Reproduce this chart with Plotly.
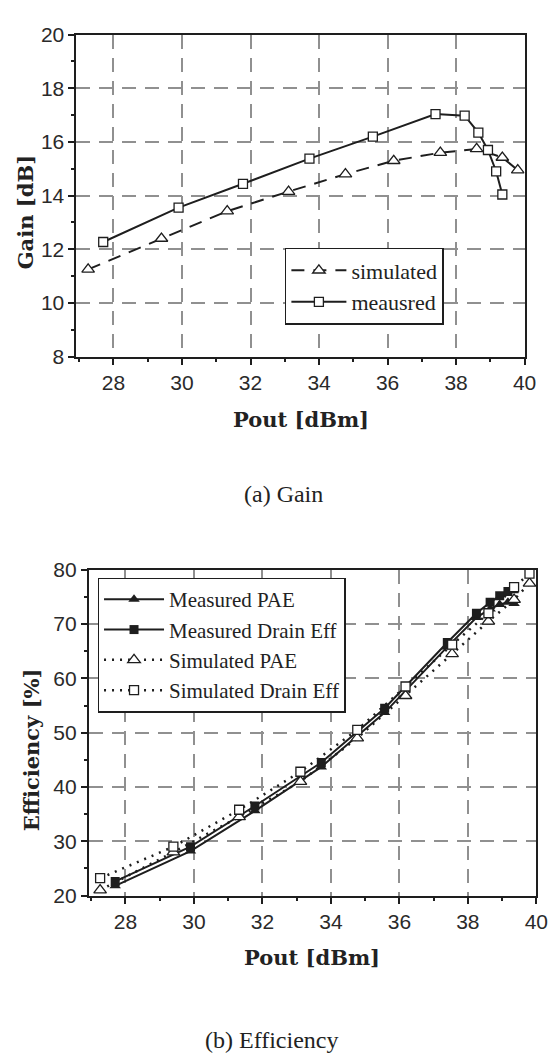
import plotly.graph_objects as go

# ---------------- data: (a) Gain ----------------
gain_sim_x = [27.26, 29.4, 31.32, 33.11, 34.77, 36.18, 37.54, 38.6, 39.35, 39.8]
gain_sim_y = [11.25, 12.4, 13.42, 14.15, 14.8, 15.3, 15.6, 15.74, 15.42, 14.95]
gain_meas_x = [27.7, 29.9, 31.78, 33.72, 35.57, 37.4, 38.25, 38.65, 38.93, 39.17, 39.35]
gain_meas_y = [12.27, 13.55, 14.44, 15.38, 16.2, 17.04, 16.98, 16.35, 15.7, 14.9, 14.04]

# ---------------- data: (b) Efficiency ----------------
eff_meas_x = [27.7, 29.9, 31.78, 33.72, 35.57, 37.4, 38.25, 38.65, 38.93, 39.17, 39.35]
eff_meas_pae = [21.8, 28.2, 35.6, 43.7, 53.7, 65.8, 71.2, 72.8, 73.6, 74.0, 73.8]
eff_meas_de = [22.6, 29.0, 36.5, 44.5, 54.5, 66.6, 72.0, 74.0, 75.2, 76.0, 76.5]
eff_sim_x = [27.26, 29.4, 31.32, 33.11, 34.77, 36.18, 37.54, 38.6, 39.35, 39.8]
eff_sim_pae = [21.0, 28.0, 34.5, 41.0, 49.0, 56.8, 64.5, 70.5, 74.5, 77.5]
eff_sim_de = [23.2, 29.0, 35.8, 42.8, 50.5, 58.5, 66.2, 72.0, 76.8, 79.3]

x_ticks = [28, 30, 32, 34, 36, 38, 40]
gain_ticks = [8, 10, 12, 14, 16, 18, 20]
eff_ticks = [20, 30, 40, 50, 60, 70, 80]

W, H = 556, 1059
SERIF = "Liberation Serif"
SERIF_B = "DejaVu Serif"
SANS = "Liberation Sans"
INK = "#1e1e1e"

fig = go.Figure()

# Gain traces
fig.add_trace(go.Scatter(
    x=gain_sim_x, y=gain_sim_y, name="simulated", mode="lines+markers",
    line=dict(color=INK, width=2, dash="13px,9px"),
    marker=dict(symbol="triangle-up", size=11, color="white", line=dict(color=INK, width=1.3)),
    xaxis="x", yaxis="y", legend="legend"))
fig.add_trace(go.Scatter(
    x=gain_meas_x, y=gain_meas_y, name="meausred", mode="lines+markers",
    line=dict(color=INK, width=2),
    marker=dict(symbol="square", size=9, color="white", line=dict(color=INK, width=1.3)),
    xaxis="x", yaxis="y", legend="legend"))

# Efficiency traces
fig.add_trace(go.Scatter(
    x=eff_meas_x, y=eff_meas_pae, name="Measured PAE", mode="lines+markers",
    line=dict(color=INK, width=2),
    marker=dict(symbol="triangle-up", size=10, color=INK),
    xaxis="x2", yaxis="y2", legend="legend2"))
fig.add_trace(go.Scatter(
    x=eff_meas_x, y=eff_meas_de, name="Measured Drain Eff", mode="lines+markers",
    line=dict(color=INK, width=2),
    marker=dict(symbol="square", size=9, color=INK),
    xaxis="x2", yaxis="y2", legend="legend2"))
fig.add_trace(go.Scatter(
    x=eff_sim_x, y=eff_sim_pae, name="Simulated PAE", mode="lines+markers",
    line=dict(color=INK, width=2.5, dash="2px,6px"),
    marker=dict(symbol="triangle-up", size=11, color="white", line=dict(color=INK, width=1.3)),
    xaxis="x2", yaxis="y2", legend="legend2"))
fig.add_trace(go.Scatter(
    x=eff_sim_x, y=eff_sim_de, name="Simulated Drain Eff", mode="lines+markers",
    line=dict(color=INK, width=2.5, dash="2px,6px"),
    marker=dict(symbol="square", size=9, color="white", line=dict(color=INK, width=1.3)),
    xaxis="x2", yaxis="y2", legend="legend2"))

axis_common = dict(
    showline=True, linecolor=INK, linewidth=2, mirror=True,
    ticks="outside", ticklen=6, tickwidth=1.5, tickcolor=INK,
    showgrid=True, gridcolor="#909090", gridwidth=2, griddash="14px,9px",
    zeroline=False,
    tickfont=dict(family=SANS, size=21, color="#2a2a2a"),
    minor=dict(ticks="outside", ticklen=3, tickwidth=1.5, tickcolor=INK, showgrid=False),
)

legend_common = dict(xanchor="left", yanchor="top", bgcolor="white",
                     bordercolor=INK, borderwidth=1.5, tracegroupgap=0)

fig.update_layout(
    width=W, height=H,
    margin=dict(l=0, r=0, t=0, b=0),
    paper_bgcolor="white", plot_bgcolor="white",
    xaxis=dict(axis_common, domain=[70 / W, 528 / W], range=[26.92, 40],
               tickvals=x_ticks, minor=dict(axis_common["minor"], dtick=1, tick0=27),
               anchor="y"),
    yaxis=dict(axis_common, domain=[1 - 344 / H, 1 - 15 / H], range=[8, 20],
               tickvals=gain_ticks, minor=dict(axis_common["minor"], dtick=1, tick0=8),
               anchor="x"),
    xaxis2=dict(axis_common, domain=[82.6 / W, 540 / W], range=[26.93, 40],
                tickvals=x_ticks, minor=dict(axis_common["minor"], dtick=1, tick0=27),
                anchor="y2"),
    yaxis2=dict(axis_common, domain=[1 - 895 / H, 1 - 562 / H], range=[20, 80],
                tickvals=eff_ticks, minor=dict(axis_common["minor"], dtick=5, tick0=20),
                anchor="x2"),
    legend=dict(legend_common, x=283 / W, y=1 - 233 / H, itemwidth=55,
                font=dict(family=SERIF, size=22, color="#222")),
    legend2=dict(legend_common, x=91.5 / W, y=1 - 570 / H, itemwidth=60,
                 font=dict(family=SERIF, size=21, color="#222")),
    showlegend=True,
)

annots = [
    dict(text="<b>Gain [dB]</b>", x=18 / W, y=1 - 197 / H, textangle=-90,
         font=dict(family=SERIF_B, size=21, color="#222")),
    dict(text="<b>Pout [dBm]</b>", x=299 / W, y=1 - 408 / H,
         font=dict(family=SERIF_B, size=21, color="#222")),
    dict(text="(a) Gain", x=282 / W, y=1 - 485 / H,
         font=dict(family=SERIF, size=24, color="#222")),
    dict(text="<b>Efficiency [%]</b>", x=24 / W, y=1 - 746 / H, textangle=-90,
         font=dict(family=SERIF_B, size=21, color="#222")),
    dict(text="<b>Pout [dBm]</b>", x=311 / W, y=1 - 958 / H,
         font=dict(family=SERIF_B, size=21, color="#222")),
    dict(text="(b) Efficiency", x=270 / W, y=1 - 1043 / H,
         font=dict(family=SERIF, size=24, color="#222")),
]
for a in annots:
    fig.add_annotation(xref="paper", yref="paper", showarrow=False,
                       xanchor="center", yanchor="middle", **a)

fig.write_html("out.html")
